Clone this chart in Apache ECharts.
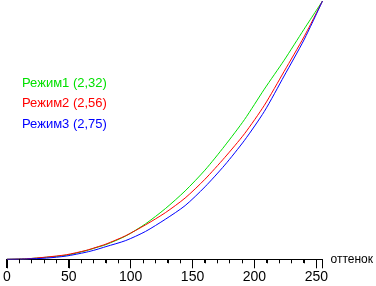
<!DOCTYPE html>
<html>
<head>
<meta charset="utf-8">
<script src="https://cdn.jsdelivr.net/npm/echarts@6/dist/echarts.min.js"></script>
<style>html,body{margin:0;padding:0;background:#fff}#c{width:376px;height:286px}</style>
</head>
<body>
<div id="c"></div>
<script>
const xValues = [0, 16, 32, 48, 64, 72, 80, 96, 112, 128, 144, 160, 176, 192, 208, 224, 240, 255];
const mode1 = [0, 0.5, 2, 4, 8.5, 11.5, 14.5, 23, 35, 50, 67.5, 88, 112, 138, 168, 196.5, 227, 255];
const mode2 = [0, 0.5, 2.2, 4.5, 8.8, 11.8, 15, 23.3, 34, 46, 60.5, 79, 100.5, 124, 152, 185.5, 219.5, 255];
const mode3 = [0, 0.3, 1.2, 3.2, 7, 9.5, 12.5, 18.5, 27.5, 39.5, 53, 71.5, 93, 117.5, 146, 181, 216.5, 255];
const seriesNames = ['Режим1 (2,32)', 'Режим2 (2,56)', 'Режим3 (2,75)'];
const colors = ['#00e000', '#ff0000', '#0000ff'];
const xTickLabels = [0, 50, 100, 150, 200, 250];
const xMinorTicks = [10, 20, 30, 40, 60, 70, 80, 90, 110, 120, 130, 140, 160, 170, 180, 190, 210, 220, 230, 240];
const xName = 'оттенок';

const chart = echarts.init(document.getElementById('c'), null, {renderer: 'canvas'});
const all = [mode1, mode2, mode3];
chart.setOption({
  animation: false,
  backgroundColor: '#fff',
  grid: {left: 4, right: 50.4, top: 1, bottom: 26.7, containLabel: false},
  legend: {
    orient: 'vertical', left: 12, top: 71, itemGap: 6.5, itemWidth: 0, itemHeight: 14,
    icon: 'rect', itemStyle: {opacity: 0},
    data: seriesNames.map((n, i) => ({name: n, textStyle: {color: colors[i]}})),
    textStyle: {fontFamily: 'Liberation Sans, Arial', fontSize: 13}
  },
  xAxis: {
    type: 'value', min: 0, max: 255, interval: 50,
    name: xName, nameLocation: 'end', nameGap: 8,
    nameTextStyle: {fontFamily: 'Liberation Sans, Arial', fontSize: 12, color: '#000', verticalAlign: 'middle', padding: [7, 0, 0, 0]},
    axisLine: {show: true, onZero: false, lineStyle: {color: '#000', width: 1}},
    axisTick: {show: true, length: 9, lineStyle: {color: '#000', width: 1}},
    minorTick: {show: true, splitNumber: 5, length: 4, lineStyle: {color: '#000', width: 1}},
    splitLine: {show: false},
    axisLabel: {
      color: '#000', fontFamily: 'Liberation Sans, Arial', fontSize: 14, margin: 11,
      formatter: v => xTickLabels.includes(v) ? String(v) : ''
    }
  },
  yAxis: {type: 'value', min: 0, max: 255, show: false, splitLine: {show: false}},
  series: all.map((arr, i) => ({
    name: seriesNames[i], type: 'line', showSymbol: false, symbol: 'none',
    smooth: 0.25,
    color: colors[i],
    lineStyle: {width: 1, color: colors[i]},
    data: xValues.map((x, j) => [x, arr[j]])
  }))
});

// Tick marks placed through the chart's own x scale
const tickGraphics = [];
xTickLabels.map(v => [v, 9]).concat(xMinorTicks.map(v => [v, 4])).forEach(([v, len]) => {
  const p = chart.convertToPixel({xAxisIndex: 0, yAxisIndex: 0}, [v, 0]);
  if (!p) return;
  const x = Math.round(p[0] - 0.5) + 0.5;
  const y = Math.round(p[1]);
  tickGraphics.push({
    type: 'line', silent: true, z: 100,
    shape: {x1: x, y1: y, x2: x, y2: y + len},
    style: {stroke: '#000', lineWidth: 1}
  });
});
chart.setOption({graphic: {elements: tickGraphics}});
</script>
</body>
</html>
